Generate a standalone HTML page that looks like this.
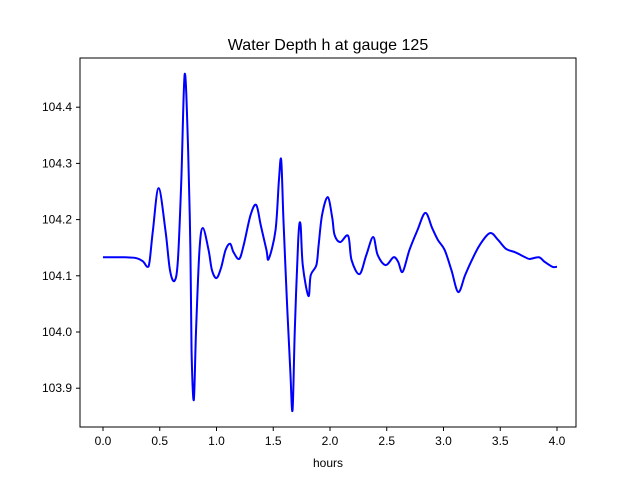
<!DOCTYPE html>
<html><head><meta charset="utf-8"><style>
body{margin:0;background:#fff}
svg{font-family:"Liberation Sans","DejaVu Sans",sans-serif}
</style></head><body>
<svg id="c" width="640" height="480">
<rect width="640" height="480" fill="#fff"/>
<text x="328" y="50" text-anchor="middle" font-size="16">Water Depth h at gauge 125</text>
<g id="ax"></g>
<path id="line" fill="none" stroke="#0000ff" stroke-width="2"/>
<rect x="80" y="58" width="496" height="369" fill="none" stroke="#000" stroke-width="1"/>
<text x="328" y="467" text-anchor="middle" font-size="12">hours</text>
</svg>
<script>
const hours=[0,0.15,0.28,0.35,0.39,0.41,0.44,0.49,0.55,0.59,0.63,0.66,0.69,0.72,0.75,0.77,0.78,0.80,0.82,0.85,0.88,0.93,0.96,1.00,1.04,1.08,1.12,1.15,1.20,1.24,1.30,1.35,1.39,1.44,1.46,1.52,1.55,1.57,1.59,1.62,1.65,1.67,1.69,1.72,1.74,1.76,1.81,1.83,1.88,1.90,1.93,1.98,2.02,2.04,2.09,2.16,2.19,2.26,2.32,2.38,2.42,2.49,2.56,2.60,2.64,2.70,2.77,2.84,2.90,2.95,3.01,3.07,3.13,3.19,3.25,3.32,3.41,3.48,3.55,3.63,3.72,3.76,3.84,3.89,3.96,4.00];
const depth=[104.133,104.133,104.132,104.126,104.116,104.125,104.181,104.256,104.181,104.110,104.091,104.128,104.270,104.459,104.324,104.146,103.968,103.879,104.004,104.146,104.185,104.146,104.110,104.096,104.114,104.146,104.157,104.142,104.130,104.155,104.208,104.226,104.190,104.146,104.130,104.181,104.270,104.306,104.199,104.057,103.932,103.861,104.004,104.164,104.192,104.119,104.064,104.101,104.119,104.155,104.208,104.240,104.203,104.173,104.160,104.171,104.128,104.103,104.137,104.169,104.137,104.119,104.133,104.125,104.107,104.146,104.181,104.212,104.185,104.164,104.146,104.110,104.071,104.101,104.128,104.155,104.176,104.164,104.148,104.142,104.133,104.130,104.133,104.125,104.116,104.116];
const xTicks=[0,0.5,1,1.5,2,2.5,3,3.5,4];
const yTicks=[103.9,104.0,104.1,104.2,104.3,104.4];
const X=v=>103+v*113.5;
const Y=v=>332-(v-104)*562;
const ns="http://www.w3.org/2000/svg";
const ax=document.getElementById('ax');
function mk(t,a,p){const e=document.createElementNS(ns,t);for(const k in a)e.setAttribute(k,a[k]);p.appendChild(e);return e;}
xTicks.forEach(v=>{
  const l=mk('line',{x1:X(v),x2:X(v),y1:427,y2:431,stroke:'#000'},ax);
  
  
  const t=mk('text',{x:X(v),y:445,'text-anchor':'middle','font-size':12},ax);
  t.textContent=v.toFixed(1);
  
  
});
yTicks.forEach(v=>{
  const l=mk('line',{x1:76,x2:80,y1:Y(v),y2:Y(v),stroke:'#000'},ax);
  
  
  const t=mk('text',{x:72,y:Y(v)+4,'text-anchor':'end','font-size':12},ax);
  t.textContent=v.toFixed(1);
  
  
});
const P=hours.map((h,i)=>[X(h),Y(depth[i])]);
let d='M'+P[0][0]+','+P[0][1];
for(let i=0;i<P.length-1;i++){
  const p0=P[Math.max(0,i-1)],p1=P[i],p2=P[i+1],p3=P[Math.min(P.length-1,i+2)];
  const c1=[p1[0]+(p2[0]-p0[0])/6,p1[1]+(p2[1]-p0[1])/6];
  const c2=[p2[0]-(p3[0]-p1[0])/6,p2[1]-(p3[1]-p1[1])/6];
  d+=`C${c1[0]},${c1[1]} ${c2[0]},${c2[1]} ${p2[0]},${p2[1]}`;
}
document.getElementById('line').setAttribute('d',d);
</script>
</body></html>
